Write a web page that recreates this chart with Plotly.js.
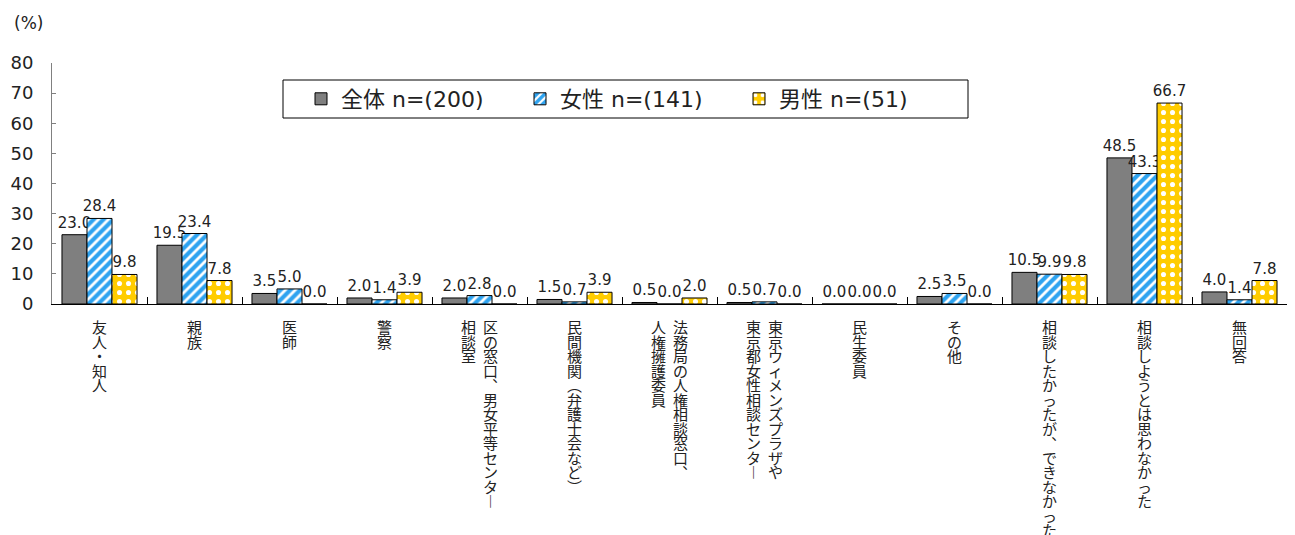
<!DOCTYPE html>
<html>
<head>
<meta charset="utf-8">
<script src="https://cdn.plot.ly/plotly-3.0.1.min.js"></script>
<style>html,body{margin:0;padding:0;background:#fff;}#chart{width:1295px;height:535px;}</style>
</head>
<body>
<div id="chart"></div>
<script>
// Category labels: each entry lists the vertical text columns, right column first
const categoryColumns = [
  ["友人・知人"],
  ["親族"],
  ["医師"],
  ["警察"],
  ["区の窓口、男女平等センター", "相談室"],
  ["民間機関（弁護士会など）"],
  ["法務局の人権相談窓口、", "人権擁護委員"],
  ["東京ウィメンズプラザや", "東京都女性相談センター"],
  ["民生委員"],
  ["その他"],
  ["相談したかったが、できなかった"],
  ["相談しようとは思わなかった"],
  ["無回答"]
];
const seriesNames = ["全体 n=(200)", "女性 n=(141)", "男性 n=(51)"];
const allValues   = [23.0, 19.5, 3.5, 2.0, 2.0, 1.5, 0.5, 0.5, 0.0, 2.5, 10.5, 48.5, 4.0];
const womenValues = [28.4, 23.4, 5.0, 1.4, 2.8, 0.7, 0.0, 0.7, 0.0, 3.5, 9.9, 43.3, 1.4];
const menValues   = [9.8, 7.8, 0.0, 3.9, 0.0, 3.9, 2.0, 0.0, 0.0, 0.0, 9.8, 66.7, 7.8];
const yTicks = [0, 10, 20, 30, 40, 50, 60, 70, 80];

const CJK = '"Noto Sans CJK JP", "Noto Sans", sans-serif';
const WIDE = '"DejaVu Sans", "Noto Sans CJK JP", sans-serif';
const categories = categoryColumns.map(c => c.join(""));

const W = 1295, H = 535, mL = 52, mR = 8, mT = 63, mB = 231;
const pw = W - mL - mR, ph = H - mT - mB;
const px2x = p => (p - mL) / pw;
const px2y = p => (H - mB - p) / ph;

const common = {
  type: 'bar', x: categories,
  texttemplate: '%{y:.1f}', textposition: 'outside',
  textfont: {family: WIDE, size: 15, color: '#222'},
  constraintext: 'none', cliponaxis: false, hoverinfo: 'skip'
};
const traces = [
  Object.assign({}, common, {
    name: seriesNames[0], y: allValues,
    marker: {color: '#7F7F7F', line: {color: '#000', width: 1}}
  }),
  Object.assign({}, common, {
    name: seriesNames[1], y: womenValues,
    marker: {color: '#FFFFFF', line: {color: '#000', width: 1},
      pattern: {shape: '/', fgcolor: '#2EA3F0', bgcolor: '#FFFFFF', size: 7, solidity: 0.6, fillmode: 'replace'}}
  }),
  Object.assign({}, common, {
    name: seriesNames[2], y: menValues,
    marker: {color: '#FFCC00', line: {color: '#000', width: 1},
      pattern: {shape: '.', fgcolor: '#FFFFFF', bgcolor: '#FFCC00', size: 9, solidity: 0.25, fillmode: 'replace'}}
  })
];

// vertical writing: one annotation per column, one character per line
const verticalForms = {"、": "︑", "ー": "︱", "（": "︵", "）": "︶"};
const LABEL_SIZE = 15, PITCH = 14.5;
const annotations = [];
categoryColumns.forEach((cols, ci) => {
  const n = cols.length;
  cols.forEach((col, k) => {
    const xs = n === 1 ? 0 : (k === 0 ? 11 : -11);
    annotations.push({
      x: categories[ci], xref: 'x', y: 0, yref: 'y',
      xanchor: 'center', yanchor: 'top', align: 'center',
      xshift: xs, yshift: -10,
      text: Array.from(col).map(ch => verticalForms[ch] || ch).join('<br>'),
      showarrow: false,
      font: {family: CJK, size: LABEL_SIZE, color: '#222'}
    });
  });
});
annotations.push({
  xref: 'paper', yref: 'paper', x: px2x(12), y: px2y(23),
  text: '(%)', showarrow: false, xanchor: 'left', yanchor: 'middle',
  font: {family: WIDE, size: 17, color: '#222'}
});

const layout = {
  width: W, height: H,
  margin: {l: mL, r: mR, t: mT, b: mB},
  paper_bgcolor: '#fff', plot_bgcolor: '#fff',
  font: {family: CJK, color: '#222'},
  barmode: 'group', bargap: 0.21, bargroupgap: 0,
  showlegend: true,
  legend: {
    orientation: 'h', x: px2x(301), y: px2y(99),
    xanchor: 'left', yanchor: 'middle',
    borderwidth: 0, bgcolor: 'rgba(0,0,0,0)',
    font: {family: WIDE, size: 22, color: '#222'},
    entrywidth: 174, entrywidthmode: 'pixels', traceorder: 'normal'
  },
  shapes: [{
    type: 'rect', xref: 'paper', yref: 'paper', layer: 'above',
    x0: px2x(283), x1: px2x(968), y0: px2y(118), y1: px2y(80),
    line: {color: '#000', width: 1}, fillcolor: 'rgba(0,0,0,0)'
  }],
  xaxis: {
    type: 'category', showline: true, linecolor: '#000', linewidth: 1,
    ticks: 'inside', tickson: 'boundaries', ticklen: 7, tickcolor: '#000',
    showticklabels: false, showgrid: false, zeroline: false, fixedrange: true
  },
  yaxis: {
    range: [0, 80], tickvals: yTicks, ticktext: yTicks.map(String),
    showline: true, linecolor: '#808080', linewidth: 1,
    ticks: 'inside', ticklen: 4, tickcolor: '#808080',
    ticklabelstandoff: 14,
    tickfont: {family: WIDE, size: 18, color: '#222'},
    showgrid: false, zeroline: false, fixedrange: true
  },
  annotations: annotations
};

function tightenVertical(gd) {
  const ratio = PITCH / LABEL_SIZE;
  gd.querySelectorAll('.annotation-text').forEach(t => {
    const lines = t.querySelectorAll('tspan.line');
    if (lines.length > 1) {
      lines.forEach((ln, i) => ln.setAttribute('dy', (i * ratio) + 'em'));
    }
  });
}
Plotly.newPlot('chart', traces, layout, {displayModeBar: false, staticPlot: true})
  .then(gd => { tightenVertical(gd); gd.on('plotly_afterplot', () => tightenVertical(gd)); });
</script>
</body>
</html>
